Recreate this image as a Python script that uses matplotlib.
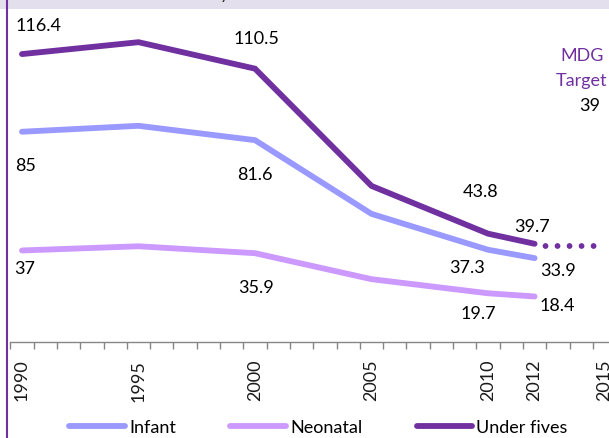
import matplotlib
matplotlib.use('Agg')
import matplotlib.pyplot as plt
from matplotlib.lines import Line2D
from matplotlib.patches import Rectangle

plt.rcParams['font.family'] = ['Lato', 'DejaVu Sans']
plt.rcParams['lines.scale_dashes'] = False

# data
years = [1990, 1995, 2000, 2005, 2010, 2012]
infant = [85, 87.4, 81.6, 51.8, 37.3, 33.9]
neonatal = [37, 38.7, 35.9, 25.4, 19.7, 18.4]
under_fives = [116.4, 121.2, 110.5, 63.1, 43.8, 39.7]
label_years = [1990, 2000, 2010, 2012]
target_years = [2012, 2015]
target_value = 39
tick_years = [1990, 1995, 2000, 2005, 2010, 2012, 2015]

c_infant = '#9999ff'
c_neo = '#cc99ff'
c_u5 = '#7030a0'

# label offsets in pixels (dx, dy) for 1990, 2000, 2010, 2012
off_u5 = [(17, 29), (1, 31), (-7, 43), (-3, 18)]
off_inf = [(4, -33), (0, -34), (-21, -17), (23, -12)]
off_neo = [(3, -18), (1, -34), (-10, -20), (23, -9)]

fig = plt.figure(figsize=(6.09, 4.39), dpi=100)
ax = fig.add_axes([10.35 / 609, 1 - 343 / 439, 605.8 / 609, 343 / 439])

lw = 4.2
ax.plot(years, infant, color=c_infant, lw=lw, solid_capstyle='round', solid_joinstyle='miter', label='Infant')
ax.plot(years, neonatal, color=c_neo, lw=lw, solid_capstyle='round', solid_joinstyle='miter', label='Neonatal')
ax.plot(years, under_fives, color=c_u5, lw=lw, solid_capstyle='round', solid_joinstyle='miter', label='Under fives')
ax.plot(target_years, [target_value] * 2, color=c_u5, lw=lw,
        linestyle=(1.08, (0.01, 8.64)), dash_capstyle='round')

for vals, offs in [(under_fives, off_u5), (infant, off_inf), (neonatal, off_neo)]:
    for yr, (dx, dy) in zip(label_years, offs):
        v = vals[years.index(yr)]
        ax.annotate(f'{v:g}', (yr, v), xytext=(dx, dy), textcoords='offset pixels',
                    ha='center', va='center', fontsize=13, color='black')

# MDG target text
ax.annotate('MDG', (2015, target_value), xytext=(-22, 191), textcoords='offset pixels',
            ha='center', va='center', fontsize=13, color=c_u5)
ax.annotate('Target', (2015, target_value), xytext=(-23, 166), textcoords='offset pixels',
            ha='center', va='center', fontsize=13, color=c_u5)
ax.annotate(f'{target_value}', (2015, target_value), xytext=(-15, 141), textcoords='offset pixels',
            ha='center', va='center', fontsize=13, color='black')

ax.set_xlim(1989.5, 2015.5)
ax.set_ylim(0, 343 / 2.4736)
ax.set_xticks(tick_years)
ax.set_xticklabels([str(y) for y in tick_years], rotation=90, fontsize=13, color='#1a1a1a')
ax.set_xticks([y + 0.5 for y in range(1989, 2016)], minor=True)
ax.tick_params(axis='x', which='major', length=0, pad=12)
ax.tick_params(axis='x', which='minor', length=5, width=1, color='#868686', direction='out')
ax.set_yticks([])
for s in ['top', 'right', 'left']:
    ax.spines[s].set_visible(False)
ax.spines['bottom'].set_color('#868686')
ax.spines['bottom'].set_linewidth(1)

leg = fig.legend(loc='center', bbox_to_anchor=(0.523, 0.025), ncol=3, frameon=False,
                 fontsize=13, handlelength=3.1, handletextpad=0.22, columnspacing=3.0,
                 borderaxespad=0, borderpad=0)
for h in leg.legend_handles:
    h.set_solid_capstyle('round')

# title band and frame edge
fig.add_artist(Rectangle((0, 1 - 10 / 439), 1, 10 / 439, transform=fig.transFigure,
                         facecolor='#e4dfec', edgecolor='none', zorder=5))
fig.text(224 / 609, 1 + 0.5 / 439, 'y', ha='center', va='baseline', fontsize=13, color='#333333', zorder=6)
fig.add_artist(Line2D([7 / 609, 7 / 609], [0, 1], transform=fig.transFigure,
                      color=c_u5, lw=1.5, zorder=7))

fig.savefig('out.png', dpi=100)
